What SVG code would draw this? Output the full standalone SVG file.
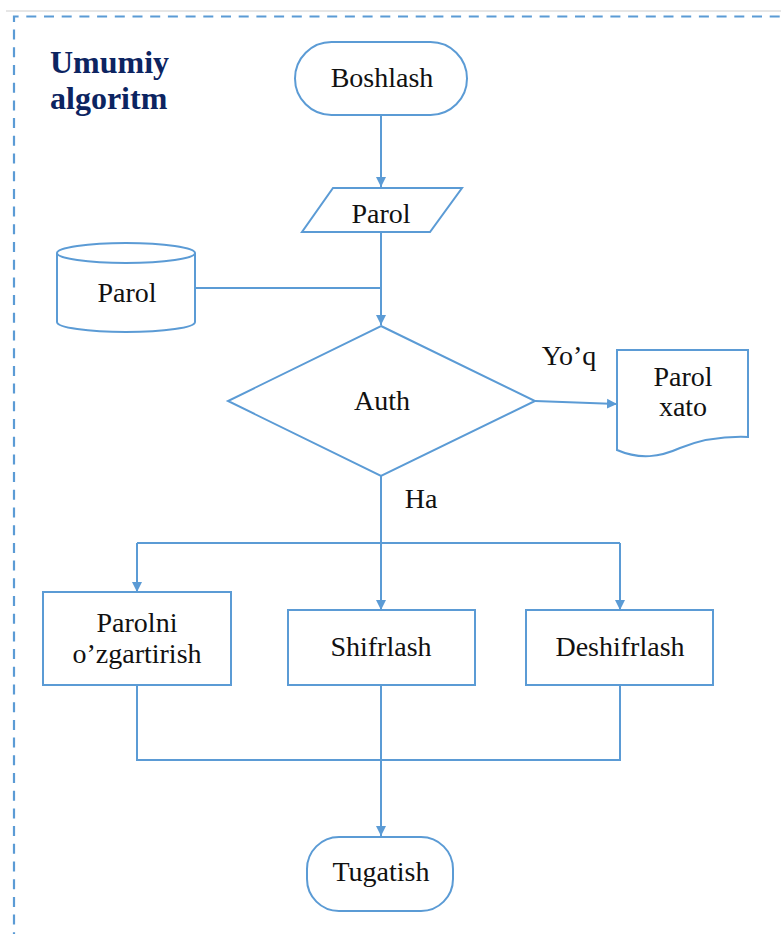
<svg xmlns="http://www.w3.org/2000/svg" width="781" height="934" viewBox="0 0 781 934">
<style>
.s{fill:#fff;stroke:#5B9BD5;stroke-width:2}
.c{fill:none;stroke:#5B9BD5;stroke-width:2}
.t{font-family:"Liberation Serif","Times New Roman",serif;font-size:28px;fill:#111;text-anchor:middle}
.h{font-family:"Liberation Serif","Times New Roman",serif;font-size:32px;font-weight:bold;fill:#0C2461}
</style>
<defs>
<marker id="ah" viewBox="0 0 10 10" refX="10" refY="5" markerWidth="10" markerHeight="11" markerUnits="userSpaceOnUse" orient="auto">
<path d="M0,0 L10,5 L0,10 z" fill="#5B9BD5"/>
</marker>
</defs>
<rect x="0" y="0" width="781" height="934" fill="#fff"/>
<rect x="6" y="10" width="775" height="2" fill="#e6e6e6"/>
<path d="M14,960 V16.5 H800" fill="none" stroke="#5B9BD5" stroke-width="2.2" stroke-dasharray="10 7.7"/>
<g id="title">
<text class="h" x="50" y="73">Umumiy</text>
<text class="h" x="50" y="109">algoritm</text>
</g>
<g id="connectors">
<path class="c" d="M381,115 V187" marker-end="url(#ah)"/>
<path class="c" d="M195,288 H381"/>
<path class="c" d="M381,232 V325" marker-end="url(#ah)"/>
<path class="c" d="M535,401 L617,404" marker-end="url(#ah)"/>
<path class="c" d="M381,476 V610" marker-end="url(#ah)"/>
<path class="c" d="M137,543 H620"/>
<path class="c" d="M137,543 V592" marker-end="url(#ah)"/>
<path class="c" d="M620,543 V610" marker-end="url(#ah)"/>
<path class="c" d="M137,685 V760 H620 V685"/>
<path class="c" d="M381,685 V836" marker-end="url(#ah)"/>
<text class="t" x="569" y="365">Yo’q</text>
<text class="t" x="421" y="508">Ha</text>
</g>
<g id="boshlash">
<rect class="s" x="295" y="42" width="172" height="73" rx="36.5"/>
<text class="t" x="382" y="87">Boshlash</text>
</g>
<g id="parol-input">
<path class="s" d="M333,188 H462 L430,232 H302 Z"/>
<text class="t" x="381" y="223">Parol</text>
</g>
<g id="parol-db">
<path class="s" d="M57,253 V322 A69,10 0 0 0 195,322 V253"/>
<ellipse class="s" cx="126" cy="253" rx="69" ry="10"/>
<text class="t" x="127" y="302">Parol</text>
</g>
<g id="auth">
<path class="s" d="M381,326 L535,401 L381,476 L228,401 Z"/>
<text class="t" x="382" y="410">Auth</text>
</g>
<g id="parol-xato">
<path class="s" d="M617,350 H748 V437 C720,436 700,440 680,448 C660,457 640,460 617,450 Z"/>
<text class="t" x="683" y="386">Parol</text>
<text class="t" x="683" y="416">xato</text>
</g>
<g id="parolni">
<rect class="s" x="43" y="592" width="188" height="93"/>
<text class="t" x="137" y="632">Parolni</text>
<text class="t" x="137" y="663">o’zgartirish</text>
</g>
<g id="shifrlash">
<rect class="s" x="288" y="610" width="187" height="75"/>
<text class="t" x="381" y="656">Shifrlash</text>
</g>
<g id="deshifrlash">
<rect class="s" x="526" y="610" width="187" height="75"/>
<text class="t" x="620" y="656">Deshifrlash</text>
</g>
<g id="tugatish">
<rect class="s" x="307" y="837" width="146" height="74" rx="32"/>
<text class="t" x="381" y="881">Tugatish</text>
</g>
</svg>
